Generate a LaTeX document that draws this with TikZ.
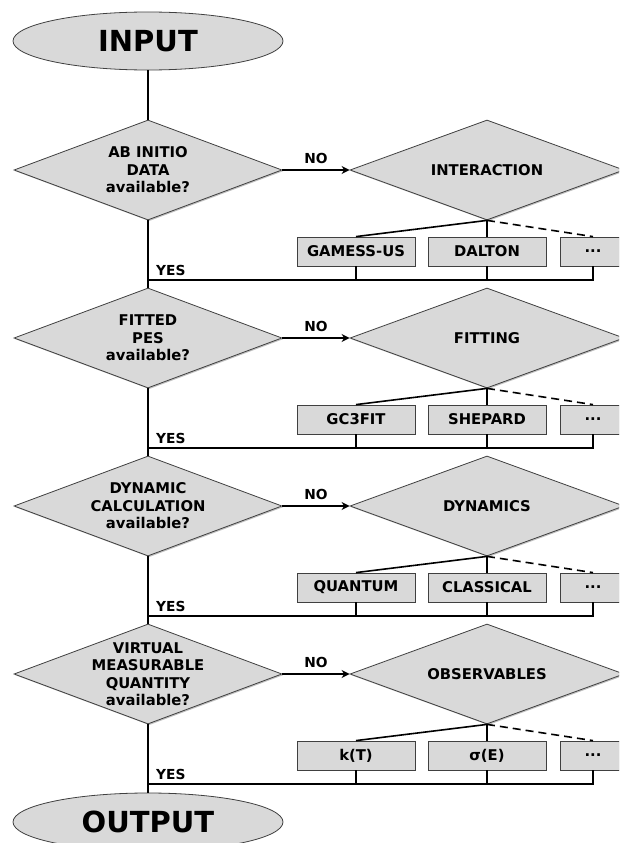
\documentclass[tikz,border=0pt]{standalone}
\usepackage{fontspec}
\setmainfont{DejaVu Sans}
\usetikzlibrary{shapes.geometric,arrows.meta,shadows}
\begin{document}
\begin{tikzpicture}[x=1pt,y=-1pt,
 shd/.style={drop shadow={shadow xshift=1.2pt,shadow yshift=-1.2pt,fill=black,opacity=0.25}},
 term/.style={ellipse,draw=black!75,line width=0.8pt,fill=black!15,minimum width=270pt,minimum height=58pt,inner sep=0pt,font=\fontsize{29}{30}\selectfont\bfseries},
 dia/.style={diamond,draw=black!75,line width=0.8pt,fill=black!15,minimum width=268pt,minimum height=100pt,inner sep=0pt,shd},
 rdia/.style={dia,minimum width=274pt},
 dtext/.style={align=center,font=\fontsize{14.8}{17.5}\selectfont\bfseries,inner sep=0pt},
 bx/.style={rectangle,draw=black!75,line width=0.8pt,fill=black!15,minimum height=29pt,inner sep=0pt,font=\fontsize{14.8}{16}\selectfont\bfseries,shd},
 bxw/.style={bx,minimum width=118pt},
 bxn/.style={bx,minimum width=66pt},
 conn/.style={line width=1.6pt,black},
 noarr/.style={conn,-{Stealth[length=8pt,width=8pt,inset=2.5pt]}},
 lbl/.style={font=\fontsize{13.8}{15}\selectfont\bfseries,inner sep=0pt}
]
\clip (0,0) rectangle (619,843);
\useasboundingbox (0,0) rectangle (619,843);

% terminals
\node[term] (in) at (148,41) {INPUT};
\node[term] (out) at (148,822) {OUTPUT};

% section 1
\node[dia] (d1) at (148,170) {};
\node[dtext] at (d1) {AB INITIO\\DATA\\available?};
\node[rdia] (r1) at (487,170) {};
\node[dtext] at (r1) {INTERACTION};
\node[bxw] (b11) at (356,251.5) {GAMESS-US};
\node[bxw] (b12) at (487,251.5) {DALTON};
\node[bxn] (b13) at (593,251.5) {...};
\coordinate (h1) at (148,280);

% section 2
\node[dia] (d2) at (148,338) {};
\node[dtext] at (d2) {FITTED\\PES\\available?};
\node[rdia] (r2) at (487,338) {};
\node[dtext] at (r2) {FITTING};
\node[bxw] (b21) at (356,419.5) {GC3FIT};
\node[bxw] (b22) at (487,419.5) {SHEPARD};
\node[bxn] (b23) at (593,419.5) {...};
\coordinate (h2) at (148,448);

% section 3
\node[dia] (d3) at (148,506) {};
\node[dtext] at (d3) {DYNAMIC\\CALCULATION\\available?};
\node[rdia] (r3) at (487,506) {};
\node[dtext] at (r3) {DYNAMICS};
\node[bxw] (b31) at (356,587.5) {QUANTUM};
\node[bxw] (b32) at (487,587.5) {CLASSICAL};
\node[bxn] (b33) at (593,587.5) {...};
\coordinate (h3) at (148,616);

% section 4
\node[dia] (d4) at (148,674) {};
\node[dtext] at (d4) {VIRTUAL\\MEASURABLE\\QUANTITY\\available?};
\node[rdia] (r4) at (487,674) {};
\node[dtext] at (r4) {OBSERVABLES};
\node[bxw] (b41) at (356,755.5) {k(T)};
\node[bxw] (b42) at (487,755.5) {σ(E)};
\node[bxn] (b43) at (593,755.5) {...};
\coordinate (h4) at (148,784);

% main vertical line
\draw[conn] (in.south) -- (d1.north);
\draw[conn] (d1.south) -- (d2.north);
\draw[conn] (d2.south) -- (d3.north);
\draw[conn] (d3.south) -- (d4.north);
\draw[conn] (d4.south) -- (out.north);

% per-section connectors
\foreach \k in {1,2,3,4}{
  \draw[noarr] (d\k.east) -- node[lbl,above=6pt] {NO} (r\k.west);
  \draw[conn] (r\k.south) -- (b\k1.north);
  \draw[conn] (r\k.south) -- (b\k2.north);
  \draw[conn,dash pattern=on 8pt off 5pt] (r\k.south) -- (b\k3.north);
  \draw[conn] (h\k) -| (b\k3.south);
  \draw[conn] (b\k1.south) -- (b\k1.south |- h\k);
  \draw[conn] (b\k2.south) -- (b\k2.south |- h\k);
  \node[lbl,anchor=south west] at ([xshift=8pt,yshift=4pt]h\k) {YES};
}
\end{tikzpicture}
\end{document}
